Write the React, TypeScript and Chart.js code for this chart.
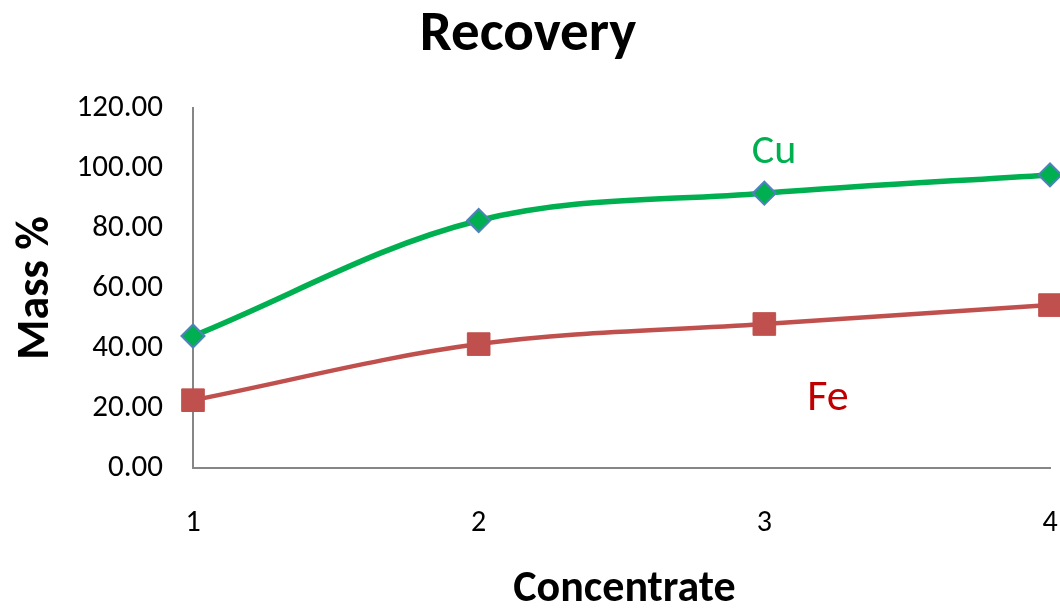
import React, { useEffect, useRef } from "react";
import { Chart, registerables } from "chart.js";

Chart.register(...registerables);

const categories = ["1", "2", "3", "4"];
const cuValues = [44.0, 82.5, 91.6, 97.7];
const feValues = [22.6, 41.3, 48.0, 54.3];
const yTicks = [0, 20, 40, 60, 80, 100, 120];
const titleText = "Recovery";
const xTitle = "Concentrate";
const yTitle = "Mass %";
const seriesNames = ["Cu", "Fe"];

const FONT = "Carlito, Calibri, Lato, sans-serif";

const textPlugin = {
  id: "textPlugin",
  afterDraw(chart: any) {
    const { ctx, chartArea, width } = chart;
    const w = chartArea.right - chartArea.left;
    ctx.save();
    ctx.textAlign = "center";
    ctx.textBaseline = "middle";
    ctx.fillStyle = "#000000";
    ctx.font = `bold 57px ${FONT}`;
    ctx.fillText(titleText, width / 2 - 2, 36);
    ctx.font = `bold 44px ${FONT}`;
    ctx.fillText(xTitle, (chartArea.left + chartArea.right) / 2 + 3, 590);
    ctx.save();
    ctx.translate(36, (chartArea.top + chartArea.bottom) / 2);
    ctx.rotate(-Math.PI / 2);
    ctx.font = `bold 46px ${FONT}`;
    ctx.fillText(yTitle, 0, 0);
    ctx.restore();
    ctx.font = `42px ${FONT}`;
    ctx.fillStyle = "#00B050";
    ctx.fillText(seriesNames[0], chartArea.left + w * ((774 - 193) / 857), 152);
    ctx.fillStyle = "#C00000";
    ctx.font = `44px ${FONT}`;
    ctx.fillText(seriesNames[1], chartArea.left + w * ((828 - 193) / 857), 399);
    ctx.restore();
  },
};

export default function App() {
  const ref = useRef<HTMLCanvasElement | null>(null);
  useEffect(() => {
    document.body.style.margin = "0";
    const canvas = ref.current;
    if (!canvas) return;
    const chart = new Chart(canvas, {
      type: "line",
      data: {
        labels: categories,
        datasets: [
          {
            label: seriesNames[0],
            data: cuValues,
            borderColor: "#00B050",
            borderWidth: 5.5,
            backgroundColor: "#00B050",
            pointStyle: "rectRot",
            pointRadius: 11.5,
            pointBorderColor: "#4F81BD",
            pointBorderWidth: 2,
            pointBackgroundColor: "#00B050",
            tension: 0.35,
            clip: false as any,
          },
          {
            label: seriesNames[1],
            data: feValues,
            borderColor: "#C0504D",
            borderWidth: 4.5,
            backgroundColor: "#C0504D",
            pointStyle: "rect",
            pointRadius: 16,
            pointBorderColor: "#C0504D",
            pointBorderWidth: 1,
            pointBackgroundColor: "#C0504D",
            tension: 0.35,
            clip: false as any,
          },
        ],
      },
      options: {
        animation: false,
        responsive: false,
        maintainAspectRatio: false,
        layout: { autoPadding: false, padding: { top: 108, right: 10, left: 0, bottom: 0 } },
        plugins: {
          legend: { display: false },
          title: { display: false },
          tooltip: { enabled: false },
        },
        scales: {
          x: {
            type: "category",
            offset: false,
            grid: { display: false, drawTicks: false },
            border: { display: true, color: "#868686", width: 2 },
            ticks: {
              color: "#000000",
              font: { family: FONT, size: 30 },
              padding: 37,
              maxRotation: 0,
            },
            afterFit: (scale: any) => {
              scale.height = 142;
              scale.paddingLeft = 0;
              scale.paddingRight = 0;
            },
          },
          y: {
            min: 0,
            max: 120,
            grid: { display: false, drawTicks: false },
            border: { display: true, color: "#868686", width: 2 },
            afterBuildTicks: (scale: any) => {
              scale.ticks = yTicks.map((v) => ({ value: v }));
            },
            ticks: {
              color: "#000000",
              font: { family: FONT, size: 31 },
              padding: 30,
              callback: (v: any) => Number(v).toFixed(2),
            },
            afterFit: (scale: any) => {
              scale.width = 193;
              scale.paddingTop = 0;
              scale.paddingBottom = 0;
            },
          },
        },
      },
      plugins: [textPlugin],
    });
    return () => chart.destroy();
  }, []);
  return (
    <div style={{ position: "absolute", left: 0, top: 0, width: 1060, height: 610 }}>
      <canvas ref={ref} width={1060} height={610} style={{ width: 1060, height: 610 }} />
    </div>
  );
}
